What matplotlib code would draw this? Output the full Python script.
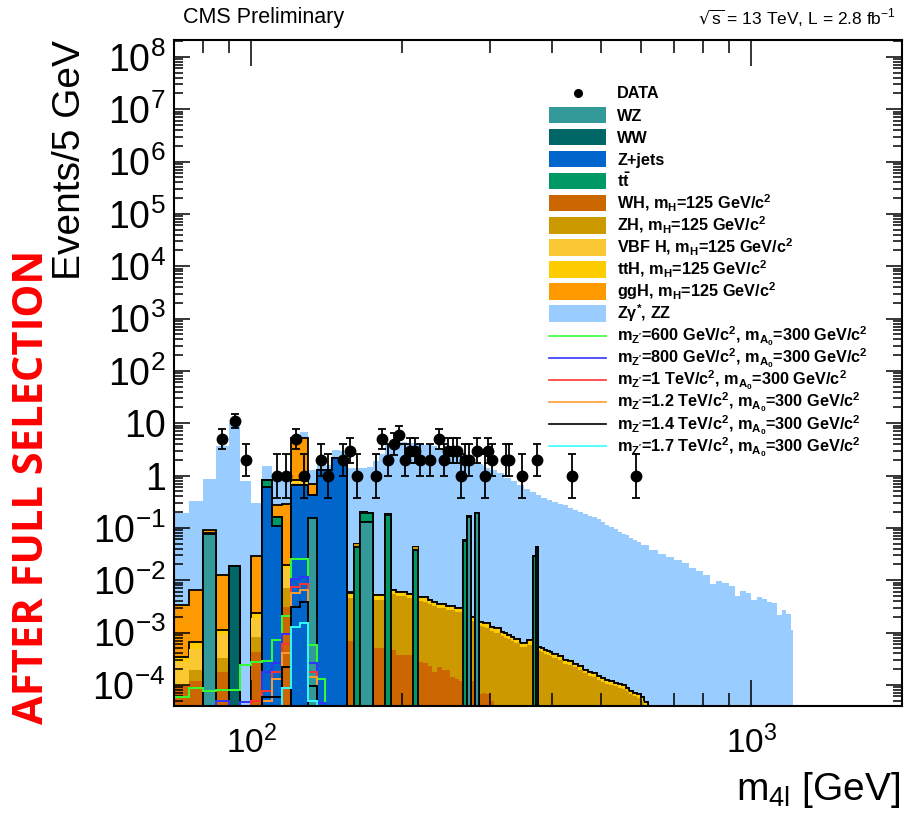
import numpy as np
import matplotlib
matplotlib.use("Agg")
import matplotlib.pyplot as plt
from matplotlib.lines import Line2D
from matplotlib.patches import Rectangle
from matplotlib.ticker import FixedLocator, FixedFormatter, LogLocator, NullFormatter

plt.rcParams["font.family"] = ["Liberation Sans", "DejaVu Sans"]
plt.rcParams["mathtext.default"] = "regular"

# ---------------- binning ----------------
# 5 GeV bins up to 400 GeV, 10 GeV above (backgrounds + Higgs)
edges = np.concatenate([np.arange(70, 400, 5), np.arange(400, 630, 10)])
# Zgamma*/ZZ (top of the stack), coarser at high mass
zz_edges = np.concatenate([np.arange(70, 300, 5), np.arange(300, 600, 10),
                           np.arange(600, 1225, 25), [1210]])
sig_edges = np.arange(70, 150, 5)

# ---------------- data ----------------
data_m = [87.5, 92.5, 97.5, 112.5, 117.5, 122.5, 127.5, 137.5, 142.5, 152.5,
          157.5, 162.5, 177.5, 182.5, 187.5, 192.5, 197.5, 202.5, 207.5, 212.5,
          217.5, 227.5, 237.5, 242.5, 247.5, 252.5, 257.5, 262.5, 267.5, 272.5,
          282.5, 292.5, 297.5, 302.5, 322.5, 327.5, 347.5, 372.5, 437.5, 587.5]
data_n = [5, 11, 2, 1, 1, 5, 1, 2, 1, 2,
          3, 1, 1, 5, 2, 4, 6, 2, 3, 3,
          2, 2, 5, 2, 3, 3, 3, 1, 2, 2,
          3, 1, 3, 2, 2, 2, 1, 2, 1, 1]
data_lo = [1.79, 2.85, 1.0, .62, .62, 1.79, .62, 1.0, .62, 1.0,
           1.30, .62, .62, 1.79, 1.0, 1.56, 2.0, 1.0, 1.30, 1.30,
           1.0, 1.0, 1.79, 1.0, 1.30, 1.30, 1.30, .62, 1.0, 1.0,
           1.30, .62, 1.30, 1.0, 1.0, 1.0, .62, 1.0, .62, .62]
data_hi = [2.79, 3.85, 2.0, 1.62, 1.62, 2.79, 1.62, 2.0, 1.62, 2.0,
           2.30, 1.62, 1.62, 2.79, 2.0, 2.56, 3.0, 2.0, 2.30, 2.30,
           2.0, 2.0, 2.79, 2.0, 2.30, 2.30, 2.30, 1.62, 2.0, 2.0,
           2.30, 1.62, 2.30, 2.0, 2.0, 2.0, 1.62, 2.0, 1.62, 1.62]

# ---------------- backgrounds (bin low edge -> events) ----------------
ww_mass, ww_vals = [90], [0.0186]
wz_mass = [80, 130, 165, 170, 270, 280, 370]
wz_vals = [0.078, 0.152, 0.131, 0.131, 0.163, 0.19, 0.0435]
zj_mass = [105, 110, 120, 125, 130, 135, 140, 145, 150]
zj_vals = [0.61, 0.11, 0.66, 0.66, 0.27, 1.27, 1.27, 2.2, 2.2]
tt_mass = [105, 110, 160, 165, 170, 185, 210, 265, 365]
tt_vals = [0.22, 0.053, 0.0434, 0.064, 0.059, 0.176, 0.0375, 0.056, 0.029]
vbf_mass = [70, 75, 80, 85, 100, 115, 120, 125]
vbf_vals = [1.75e-4, 3.0e-4, 5e-4, 6.2e-4, 1.06e-3, 9.8e-3, 0.06, 0.06]
ggh_mass = [70, 75, 80, 85, 100, 110, 115, 120, 125, 130, 155]
ggh_vals = [2.96e-3, 5.8e-3, 0.012, 0.0114, 0.0266, 0.107, 0.2655, 4.38, 4.48, 0.26, 4e-4]

# dense Higgs components, one value per bin of `edges`
wh = [1.0e-4, 1.2e-4, 2.0e-4, 1.75e-4, 0, 0, 4.3e-4, 0, 0, 3.1e-3,
      0.01, 0.01, 0, 0, 0, 0, 0, 7.0e-4, 6.0e-4, 6.0e-4,
      6.0e-4, 5.0e-4, 5.0e-4, 4.8e-4, 4.6e-4, 3.7e-4, 3.7e-4, 3.7e-4, 3.2e-4, 2.7e-4,
      2.6e-4, 2.3e-4, 1.8e-4, 2.2e-4, 1.9e-4, 1.9e-4, 1.4e-4, 1.3e-4, 1.2e-4, 1.2e-4,
      1.2e-4, 1.2e-4, 1.0e-4, 6.8e-5, 7.0e-5, 6.8e-5, 5.0e-5, 0, 0, 0] + [0] * 38
zh = [0, 7.0e-5, 2.0e-4, 1.45e-4, 0, 0, 4.1e-4, 0, 0, 3.9e-3,
      0.02, 0.02, 0, 0, 0, 0, 0, 3.8e-3, 4.2e-3, 4.2e-3,
      4.2e-3, 3.7e-3, 3.7e-3, 4.3e-3, 5.0e-3, 4.6e-3, 4.6e-3, 4.3e-3, 4.6e-3, 3.8e-3,
      3.64e-3, 3.27e-3, 3.07e-3, 2.7e-3, 2.73e-3, 2.48e-3, 2.53e-3, 2.29e-3, 2.3e-3, 1.96e-3,
      1.7e-3, 1.55e-3, 1.4e-3, 1.27e-3, 1.22e-3, 1.18e-3, 1.03e-3, 1.0e-3, 1.0e-3, 8.6e-4,
      8.0e-4, 7.5e-4, 6.9e-4, 6.2e-4, 6.2e-4, 5.35e-4, 5.35e-4, 5.9e-4, 5.9e-4, 5.0e-4,
      4.6e-4, 4.4e-4, 4.2e-4, 3.9e-4, 3.7e-4, 3.5e-4, 3.3e-4, 3.0e-4, 2.55e-4, 2.35e-4,
      2.15e-4, 1.9e-4, 1.65e-4, 1.5e-4, 1.4e-4, 1.25e-4, 1.15e-4, 1.04e-4, 1.0e-4, 9.4e-5,
      8.7e-5, 8.5e-5, 7.5e-5, 6.6e-5, 6.0e-5, 5.6e-5, 4.9e-5, 4.1e-5]
tth = [6.5e-5, 1.8e-4, 2.0e-4, 1.6e-4, 0, 0, 5.0e-4, 0, 0, 2.7e-3,
       0.07, 0.07, 0.01, 0, 0, 0, 0, 1.1e-3, 8e-4, 8e-4,
       8e-4, 1.0e-3, 1.0e-3, 1.0e-3, 1.1e-3, 1.0e-3, 1.0e-3, 9e-4, 1.0e-3, 8e-4,
       8e-4, 7e-4, 6.5e-4, 5.8e-4, 5.8e-4, 5.3e-4, 5.3e-4, 4.8e-4, 4.8e-4, 4.2e-4,
       3.8e-4, 3.3e-4, 3.0e-4, 2.6e-4, 2.6e-4, 2.5e-4, 2.2e-4, 2.0e-4, 2.0e-4, 1.7e-4,
       1.6e-4, 1.5e-4, 1.4e-4, 1.2e-4, 1.2e-4, 1.05e-4, 1.05e-4, 1.2e-4, 1.2e-4, 1.0e-4,
       9e-5, 9e-5, 8e-5, 8e-5, 7e-5, 7e-5, 6e-5, 6e-5, 5e-5, 4.5e-5,
       4e-5, 3.5e-5, 3e-5, 2.8e-5, 2.5e-5, 2.3e-5, 2e-5, 1.8e-5, 1.8e-5, 1.6e-5,
       1.5e-5, 1.5e-5, 1.3e-5, 1.2e-5, 1e-5, 1e-5, 9e-6, 7e-6]

# top of the full stack (Zgamma*, ZZ is the last layer)
zz_top = [0.19, 0.33, 0.85, 3.7, 10.2, 0.79, 0.3, 1.54, 0.9, 0.9,
          5.6, 6.9, 1.3, 1.6, 1.6, 3.1, 3.0, 1.4, 1.4, 1.4,
          1.45, 1.9, 2.6, 4.0, 4.4, 4.4, 4.3, 4.2, 4.1, 4.0,
          3.9, 3.8, 3.6, 3.4, 3.2, 3.0, 2.8, 2.6, 2.4, 2.2,
          2.1, 1.9, 1.8, 1.65, 1.5, 1.4,
          1.3, 1.1, 0.9, 0.78, 0.66, 0.56, 0.48, 0.42, 0.37, 0.34,
          0.31, 0.29, 0.27, 0.24, 0.22, 0.2, 0.185, 0.17, 0.16, 0.145,
          0.13, 0.115, 0.105, 0.095, 0.085, 0.078, 0.072, 0.064, 0.058, 0.053,
          0.048, 0.038, 0.032, 0.028, 0.024, 0.021, 0.017, 0.015,
          0.0125, 0.0085, 0.0098, 0.0087, 0.0079, 0.005, 0.0063, 0.0056,
          0.0042, 0.0048, 0.0043, 0.0039, 0.0036, 0.0022, 0.0027, 0.0023,
          0.0011]

# ---------------- signals (5 GeV bins, 70-145 GeV) ----------------
sig_600 = [5.8e-5, 8.9e-5, 7.7e-5, 8.1e-5, 8.1e-5, 2.4e-4, 2.7e-4, 2.9e-4, 7.1e-4, 2.1e-3,
           0.025, 0.025, 5.8e-4, 1.3e-4, 0]
sig_800 = [0, 0, 0, 5e-5, 0, 4.8e-5, 0, 1.8e-4, 2.6e-4, 9.3e-4,
           0.0104, 0.0113, 2.6e-4, 4.5e-5, 0]
sig_1000 = [0, 0, 0, 0, 0, 0, 5e-5, 7.7e-5, 1.8e-4, 6.1e-4,
            7.5e-3, 8.4e-3, 1.8e-4, 0, 0]
sig_1200 = [0, 0, 0, 0, 0, 0, 0, 5e-5, 1.3e-4, 4.1e-4,
            5.7e-3, 6.6e-3, 1.4e-4, 0, 0]
sig_1400 = [0, 0, 0, 0, 0, 0, 0, 5.8e-5, 5.8e-5, 2.2e-4,
            3.1e-3, 3.9e-3, 9.4e-5, 0, 0]
sig_1700 = [0, 0, 0, 0, 0, 0, 0, 0, 0, 8.6e-5,
            1.3e-3, 1.5e-3, 5e-5, 0, 0]

xtick_vals = [100, 1000]
xtick_labels = ["$10^{2}$", "$10^{3}$"]
ytick_vals = [1e-4, 1e-3, 1e-2, 1e-1, 1, 10, 1e2, 1e3, 1e4, 1e5, 1e6, 1e7, 1e8]
ytick_labels = ["$10^{-4}$", "$10^{-3}$", "$10^{-2}$", "$10^{-1}$", "1", "10",
                "$10^{2}$", "$10^{3}$", "$10^{4}$", "$10^{5}$", "$10^{6}$",
                "$10^{7}$", "$10^{8}$"]

# ---------------- styles ----------------
c_ww, c_wz, c_zj, c_tt = "#006666", "#339999", "#0066cc", "#009966"
c_wh, c_zh, c_vbf, c_tth, c_ggh = "#cc6600", "#cc9900", "#fac832", "#ffcc00", "#ff9900"
c_zz = "#99ccff"
sig_cols = ["#33ff33", "#3333ff", "#ff3333", "#ff9933", "black", "#33ffff"]
TINY = 1e-9

W, H = 913, 815


def fx(px):
    return px / W


def fy(py):
    return 1 - py / H


def sparse(masses, vals):
    h = np.zeros(len(edges) - 1)
    h[np.searchsorted(edges, masses)] = vals
    return h


fig = plt.figure(figsize=(W / 100, H / 100), dpi=100)
ax = fig.add_axes([fx(174), fy(705.7), 728 / W, (705.7 - 40) / H])
ax.set_xscale("log")
ax.set_yscale("log")

# Z gamma*, ZZ : top of the stack, drawn first
ax.stairs(zz_top, zz_edges, baseline=TINY, fill=True, color=c_zz, lw=0, zorder=1)

# stack (bottom -> top), drawn top -> bottom like THStack
layers = [sparse(ww_mass, ww_vals), sparse(wz_mass, wz_vals), sparse(zj_mass, zj_vals),
          sparse(tt_mass, tt_vals), np.array(wh), np.array(zh),
          sparse(vbf_mass, vbf_vals), np.array(tth), sparse(ggh_mass, ggh_vals)]
colors = [c_ww, c_wz, c_zj, c_tt, c_wh, c_zh, c_vbf, c_tth, c_ggh]
outlined = [True, True, True, True, False, False, False, True, True]
cum = np.cumsum(layers, axis=0)
for k in reversed(range(len(layers))):
    top = np.where(cum[k] > 0, cum[k], TINY)
    ax.stairs(top, edges, baseline=TINY, fill=True, color=colors[k], lw=0, zorder=1.5)
    if outlined[k]:
        ax.stairs(top, edges, baseline=TINY, color="black", lw=1.3, zorder=1.5)

# signals
for vals, col in zip([sig_600, sig_800, sig_1000, sig_1200, sig_1400, sig_1700], sig_cols):
    v = np.array(vals, dtype=float)
    ax.stairs(np.where(v > 0, v, TINY), sig_edges, baseline=TINY, color=col, lw=1.4, zorder=4)

# data
ax.errorbar(data_m, data_n, yerr=[data_lo, data_hi], fmt="o", color="black", ms=7.5,
            elinewidth=1.3, capsize=2.8, capthick=1.3, zorder=6)

ax.set_xlim(70, 2000)
ax.set_ylim(4e-5, 2.1e8)
ax.xaxis.set_major_locator(FixedLocator(xtick_vals))
ax.xaxis.set_major_formatter(FixedFormatter(xtick_labels))
ax.xaxis.set_minor_locator(LogLocator(base=10, subs=np.arange(2, 10), numticks=50))
ax.xaxis.set_minor_formatter(NullFormatter())
ax.yaxis.set_major_locator(FixedLocator(ytick_vals))
ax.yaxis.set_major_formatter(FixedFormatter(ytick_labels))
ax.yaxis.set_minor_locator(LogLocator(base=10, subs=np.arange(2, 10), numticks=50))
ax.yaxis.set_minor_formatter(NullFormatter())
ax.tick_params(which="both", direction="in", top=True, right=True, width=1.1)
ax.tick_params(axis="x", which="major", length=19, pad=14, labelsize=24)
ax.tick_params(axis="x", which="minor", length=9.5)
ax.tick_params(axis="y", which="major", length=11.5, pad=6, labelsize=27)
ax.tick_params(axis="y", which="minor", length=6.3)
ax.set_axisbelow(False)
for s in ax.spines.values():
    s.set_linewidth(1.5)
    s.set_zorder(5)

# axis titles and header
fig.text(fx(70), fy(40), "Events/5 GeV", rotation=90, ha="center", va="top", fontsize=28)
fig.text(fx(900), fy(800), "m$_{4l}$ [GeV]", ha="right", va="baseline", fontsize=28)
narrow = ["Liberation Sans Narrow", "Liberation Sans"]
fig.text(fx(183), fy(18), "CMS Preliminary", family=narrow, fontsize=15.5, va="center")
fig.text(fx(896), fy(18), r"$\sqrt{s}$ = 13 TeV, L = 2.8 fb$^{-1}$", family=narrow,
         fontsize=12.5, ha="right", va="center")
fig.text(fx(33), fy(487), "AFTER FULL SELECTION", rotation=90, color="red",
         fontweight="bold", fontsize=30, family=["Open Sans", "Liberation Sans"],
         ha="center", va="center")

# legend, ROOT style
legend_entries = [
    ("data", "black", "DATA"),
    ("fill", c_wz, "WZ"),
    ("fill", c_ww, "WW"),
    ("fill", c_zj, "Z+jets"),
    ("fill", c_tt, r"t$\bar{t}$"),
    ("fill", c_wh, "WH, m$_{H}$=125 GeV/c$^{2}$"),
    ("fill", c_zh, "ZH, m$_{H}$=125 GeV/c$^{2}$"),
    ("fill", c_vbf, "VBF H, m$_{H}$=125 GeV/c$^{2}$"),
    ("fill", c_tth, "ttH, m$_{H}$=125 GeV/c$^{2}$"),
    ("fill", c_ggh, "ggH, m$_{H}$=125 GeV/c$^{2}$"),
    ("fill", c_zz, r"Z$\gamma^{*}$, ZZ"),
    ("line", sig_cols[0], "m$_{Z'}$=600 GeV/c$^{2}$, m$_{A_{0}}$=300 GeV/c$^{2}$"),
    ("line", sig_cols[1], "m$_{Z'}$=800 GeV/c$^{2}$, m$_{A_{0}}$=300 GeV/c$^{2}$"),
    ("line", sig_cols[2], "m$_{Z'}$=1 TeV/c$^{2}$, m$_{A_{0}}$=300 GeV/c$^{2}$"),
    ("line", sig_cols[3], "m$_{Z'}$=1.2 TeV/c$^{2}$, m$_{A_{0}}$=300 GeV/c$^{2}$"),
    ("line", sig_cols[4], "m$_{Z'}$=1.4 TeV/c$^{2}$, m$_{A_{0}}$=300 GeV/c$^{2}$"),
    ("line", sig_cols[5], "m$_{Z'}$=1.7 TeV/c$^{2}$, m$_{A_{0}}$=300 GeV/c$^{2}$"),
]
for i, (kind, col, label) in enumerate(legend_entries):
    yc = 92.7 + 22.1 * i
    if kind == "data":
        fig.add_artist(Line2D([fx(577.5)], [fy(yc)], marker="o", ms=5.5, color=col,
                              transform=fig.transFigure))
    elif kind == "fill":
        fig.add_artist(Rectangle((fx(549), fy(yc + 8.2)), 57 / W, 16.5 / H, facecolor=col,
                                 edgecolor="none", transform=fig.transFigure))
    else:
        fig.add_artist(Line2D([fx(549), fx(606)], [fy(yc), fy(yc)], color=col, lw=1.2,
                              transform=fig.transFigure))
    fig.text(fx(617), fy(yc + 5.8), label, fontsize=11.7, fontweight="bold", va="baseline")

fig.savefig("out.png", dpi=100)
